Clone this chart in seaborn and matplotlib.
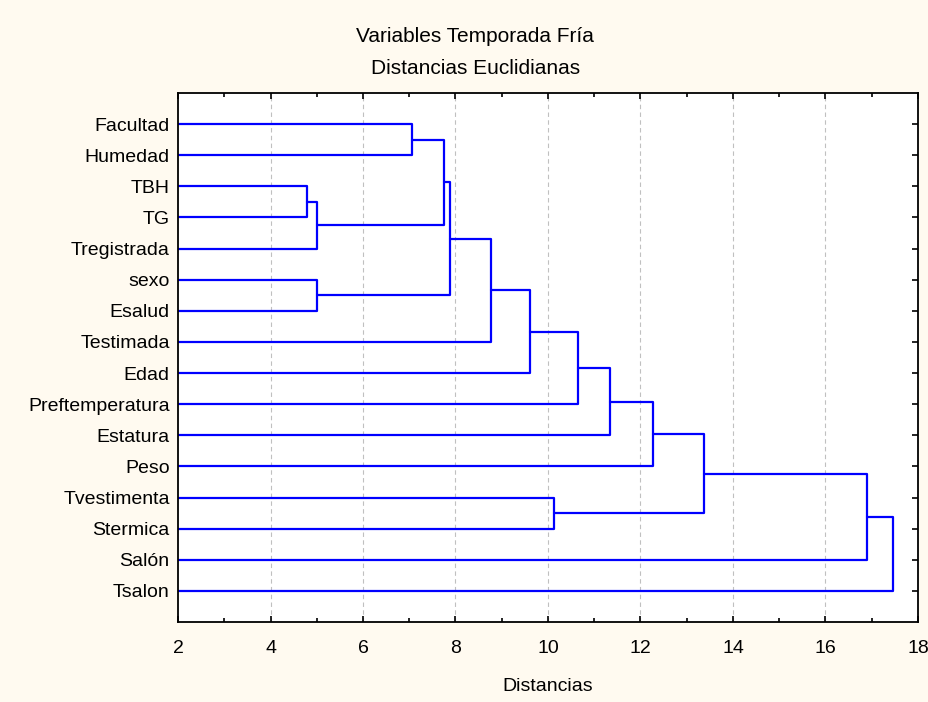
import matplotlib
matplotlib.use("Agg")
import matplotlib.pyplot as plt
import seaborn as sns
import pandas as pd
import numpy as np
from matplotlib.ticker import MultipleLocator

# ---- data ----
leaves = ["Facultad", "Humedad", "TBH", "TG", "Tregistrada", "sexo", "Esalud",
          "Testimada", "Edad", "Preftemperatura", "Estatura", "Peso",
          "Tvestimenta", "Stermica", "Salón", "Tsalon"]
# merges: child ids (leaves 0..15, clusters 16..) and linkage distance
merge_a = [2, 5, 16, 0, 19, 20, 21, 22, 12, 23, 25, 26, 27, 28, 29]
merge_b = [3, 6, 4, 1, 18, 17, 7, 8, 13, 9, 10, 11, 24, 14, 15]
merge_h = [4.80, 5.00, 5.00, 7.05, 7.75, 7.88, 8.77, 9.61, 10.12, 10.65,
           11.33, 12.28, 13.38, 16.90, 17.47]
xticks = [2, 4, 6, 8, 10, 12, 14, 16, 18]

# ---- build link segments ----
n = len(leaves)
pos = {i: (0.0, float(i)) for i in range(n)}
rows = []
for k, (a, b, h) in enumerate(zip(merge_a, merge_b, merge_h)):
    xa, ya = pos[a]
    xb, yb = pos[b]
    for x, y in [(xa, ya), (h, ya), (h, yb), (xb, yb)]:
        rows.append({"x": x, "y": y, "link": k})
    pos[n + k] = (h, (ya + yb) / 2.0)
df = pd.DataFrame(rows)

sns.set_theme(style="white")
plt.rcParams["font.family"] = ["Liberation Sans", "DejaVu Sans"]
plt.rcParams["text.color"] = "black"
plt.rcParams["axes.labelcolor"] = "black"
plt.rcParams["xtick.color"] = "black"
plt.rcParams["ytick.color"] = "black"

fig = plt.figure(figsize=(9.29, 7.02), dpi=100, facecolor="#FFFAF0")
ax = fig.add_axes([178 / 929, 1 - 622 / 702, (918 - 178) / 929, (622 - 93) / 702])
ax.set_facecolor("white")

for x in xticks[1:-1]:
    ax.axvline(x, color="#c0c0c0", lw=0.8, ls=(0, (4, 3)), zorder=0)

sns.lineplot(data=df, x="x", y="y", units="link", estimator=None, sort=False,
             color="#0000FF", lw=1.6, ax=ax, legend=False)

ax.set_xlim(2, 18)
ax.set_ylim(n, -1)
ax.set_xticks(xticks)
ax.set_xticklabels([str(t) for t in xticks], fontsize=14)
ax.xaxis.set_minor_locator(MultipleLocator(1))
ax.set_yticks(range(n))
ax.set_yticklabels(leaves, fontsize=14)
ax.tick_params(axis="both", which="both", direction="in", top=True, right=True,
               bottom=True, left=True, color="black", length=4, width=1.2)
ax.tick_params(axis="x", which="major", pad=13)
ax.tick_params(axis="y", which="major", pad=6)
ax.tick_params(axis="x", which="minor", length=3)
for s in ax.spines.values():
    s.set_color("black")
    s.set_linewidth(1.3)
ax.set_xlabel("Distancias", fontsize=14, labelpad=15)
ax.set_ylabel("")

fig.text(475 / 929, 1 - 36 / 702, "Variables Temporada Fría",
         ha="center", va="center", fontsize=15)
fig.text(476 / 929, 1 - 68 / 702, "Distancias Euclidianas",
         ha="center", va="center", fontsize=15)

fig.savefig("out.png", dpi=100, facecolor=fig.get_facecolor())
